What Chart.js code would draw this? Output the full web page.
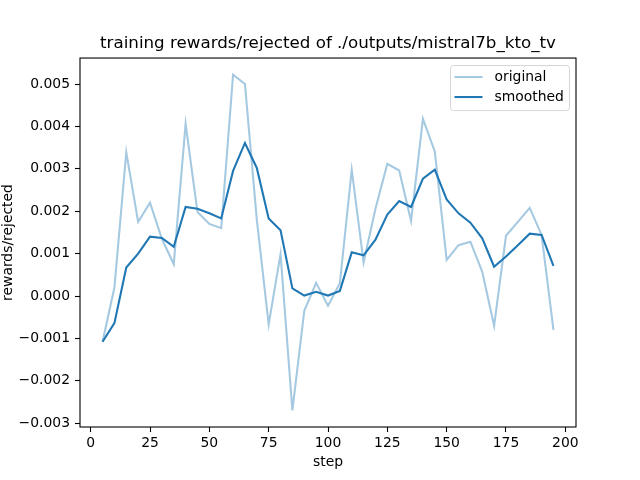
<!DOCTYPE html>
<html>
<head>
<meta charset="utf-8">
<script src="https://cdn.jsdelivr.net/npm/chart.js@4/dist/chart.umd.min.js"></script>
<style>
  html, body { margin: 0; padding: 0; background: #fff; }
  canvas { display: block; }
</style>
</head>
<body>
<canvas id="chart" width="640" height="480"></canvas>
<script>
// values
const steps = [5, 10, 15, 20, 25, 30, 35, 40, 45, 50, 55, 60, 65, 70, 75, 80, 85, 90, 95, 100,
  105, 110, 115, 120, 125, 130, 135, 140, 145, 150, 155, 160, 165, 170, 175, 180, 185, 190, 195];

const original = [-0.00108, 0.0002, 0.00339, 0.00175, 0.0022, 0.00135, 0.00075, 0.00406, 0.00198, 0.0017,
  0.0016, 0.00522, 0.005, 0.0018, -0.00067, 0.00099, -0.0027, -0.00035, 0.00031, -0.00023,
  0.0003, 0.00298, 0.00079, 0.00206, 0.00312, 0.00296, 0.00177, 0.00418, 0.00341, 0.00085,
  0.0012, 0.00128, 0.00057, -0.0007, 0.00142, 0.00175, 0.00208, 0.00144, -0.0008];

const smoothed = [-0.00108, -0.00064, 0.00067, 0.001, 0.0014, 0.00137, 0.00116, 0.0021, 0.00206, 0.00195,
  0.00183, 0.00295, 0.00361, 0.00302, 0.00183, 0.00155, 0.00018, 0.00001, 0.0001, 0.00001,
  0.00012, 0.00103, 0.00096, 0.00133, 0.00192, 0.00224, 0.0021, 0.00277, 0.00298, 0.00228,
  0.00195, 0.00173, 0.00136, 0.00069, 0.00093, 0.0012, 0.00147, 0.00144, 0.00071];

const xTicks = [0, 25, 50, 75, 100, 125, 150, 175, 200];
const yTicks = [-0.003, -0.002, -0.001, 0, 0.001, 0.002, 0.003, 0.004, 0.005];

const FONT = "'DejaVu Sans', sans-serif";
const lightBlue = "rgba(31, 119, 180, 0.4)";
const darkBlue = "#1f77b4";

function toPoints(ys) {
  return steps.map((s, i) => ({ x: s, y: ys[i] }));
}

// full box round the plot area, like matplotlib spines
const frameBox = {
  id: "frameBox",
  afterDraw(chart) {
    const { ctx, chartArea: a } = chart;
    ctx.save();
    ctx.strokeStyle = "#000";
    ctx.lineWidth = 1.1;
    ctx.strokeRect(a.left, a.top, a.right - a.left, a.bottom - a.top);
    ctx.restore();
  }
};

// legend drawn inside the upper right corner
const innerLegend = {
  id: "innerLegend",
  afterDraw(chart) {
    const ctx = chart.ctx;
    const a = chart.chartArea;
    const x0 = a.right - 6.5, y0 = a.top + 7.5;
    const w = 119, h = 45, r = 3;
    ctx.save();
    ctx.beginPath();
    ctx.roundRect(x0 - w, y0, w, h, r);
    ctx.fillStyle = "rgba(255,255,255,0.8)";
    ctx.fill();
    ctx.strokeStyle = "rgba(204,204,204,0.8)";
    ctx.lineWidth = 1;
    ctx.stroke();
    ctx.font = "13.9px " + FONT;
    ctx.textBaseline = "middle";
    ctx.textAlign = "left";
    chart.data.datasets.forEach((ds, i) => {
      const ly = y0 + 11.5 + i * 20;
      ctx.beginPath();
      ctx.moveTo(x0 - w + 4, ly);
      ctx.lineTo(x0 - w + 32, ly);
      ctx.strokeStyle = ds.borderColor;
      ctx.lineWidth = ds.borderWidth;
      ctx.stroke();
      ctx.fillStyle = "#000";
      ctx.fillText(ds.label, x0 - w + 44, ly);
    });
    ctx.restore();
  }
};

new Chart(document.getElementById("chart"), {
  type: "line",
  data: {
    datasets: [
      { label: "original", data: toPoints(original), borderColor: lightBlue, backgroundColor: lightBlue,
        borderWidth: 2.08, pointRadius: 0, tension: 0, order: 1 },
      { label: "smoothed", data: toPoints(smoothed), borderColor: darkBlue, backgroundColor: darkBlue,
        borderWidth: 2.08, pointRadius: 0, tension: 0, order: 0 }
    ]
  },
  options: {
    responsive: false,
    animation: false,
    devicePixelRatio: 1,
    layout: { padding: { left: 0, right: 64, top: 0, bottom: 0 } },
    plugins: {
      legend: { display: false },
      tooltip: { enabled: false },
      title: {
        display: true,
        fullSize: false,
        text: "training rewards/rejected of ./outputs/mistral7b_kto_tv",
        color: "#000",
        font: { family: FONT, size: 16.7, weight: "normal", lineHeight: 1.2 },
        padding: { top: 34, bottom: 4 }
      }
    },
    scales: {
      x: {
        type: "linear",
        min: -4.5,
        max: 204.5,
        afterFit(scale) { scale.height = 53; },
        afterBuildTicks(scale) { scale.ticks = xTicks.map(v => ({ value: v })); },
        border: { display: false },
        grid: { drawOnChartArea: false, drawTicks: true, tickLength: 5, tickColor: "#000", tickWidth: 1.1 },
        ticks: {
          color: "#000",
          padding: 3,
          maxRotation: 0,
          font: { family: FONT, size: 13.9 },
          callback: v => String(v)
        },
        title: {
          display: true,
          text: "step",
          color: "#000",
          font: { family: FONT, size: 13.9 },
          padding: { top: 0, bottom: 9.5 }
        }
      },
      y: {
        type: "linear",
        min: -0.00309,
        max: 0.005613,
        afterFit(scale) { scale.width = 80; },
        afterBuildTicks(scale) { scale.ticks = yTicks.map(v => ({ value: v })); },
        border: { display: false },
        grid: { drawOnChartArea: false, drawTicks: true, tickLength: 5, tickColor: "#000", tickWidth: 1.1 },
        ticks: {
          color: "#000",
          padding: 5,
          font: { family: FONT, size: 13.9 },
          callback: v => (Math.abs(v) < 1e-12 ? "0.000" : v.toFixed(3).replace("-", "\u2212"))
        },
        title: {
          display: true,
          text: "rewards/rejected",
          color: "#000",
          font: { family: FONT, size: 13.9 },
          padding: { top: 0, bottom: 0 }
        }
      }
    }
  },
  plugins: [frameBox, innerLegend]
});
</script>
</body>
</html>
